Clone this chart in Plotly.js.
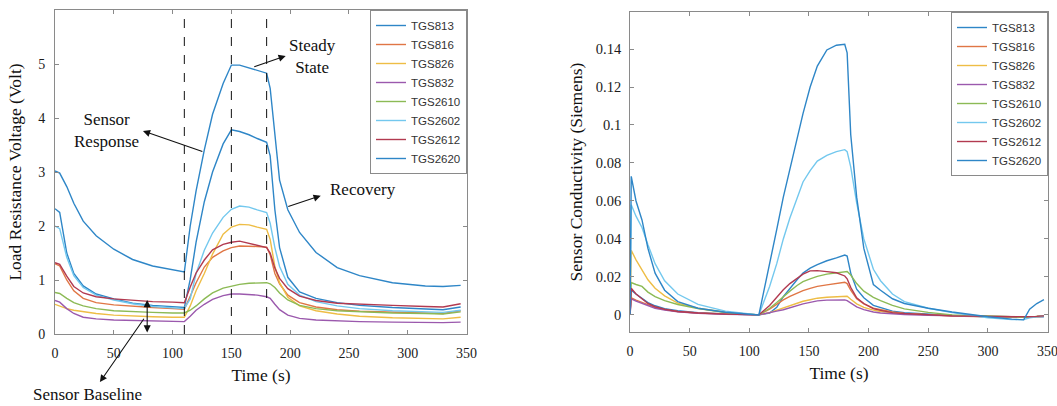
<!DOCTYPE html>
<html>
<head>
<meta charset="utf-8">
<script src="https://cdn.plot.ly/plotly-3.0.1.min.js"></script>
<style>html,body{margin:0;padding:0;background:#fff;}#chart{width:1057px;height:406px;}</style>
</head>
<body>
<div id="chart"></div>
<script>
// ---------- categories ----------
const sensors = ['TGS813', 'TGS816', 'TGS826', 'TGS832', 'TGS2610', 'TGS2602', 'TGS2612', 'TGS2620'];
const sensorColors = ['#2e86c7', '#e07645', '#eebd45', '#9b59ad', '#8cba55', '#73c8ee', '#b23a50', '#2e86c7'];

// ---------- left panel: load resistance voltage (Volt) ----------
const timeV = [0, 4, 10, 16, 24, 35, 50, 66, 83, 100, 110, 115, 120, 127, 134, 143, 150, 157, 165, 172, 180, 183, 187, 191, 198, 208, 222, 240, 259, 287, 315, 330, 345];
const volt_TGS813  = [2.32, 2.25, 1.5, 1.12, 0.89, 0.74, 0.65, 0.57, 0.53, 0.5, 0.49, 1.01, 1.7, 2.45, 3.0, 3.52, 3.78, 3.75, 3.69, 3.62, 3.55, 3.3, 2.3, 1.6, 1.05, 0.78, 0.66, 0.58, 0.53, 0.49, 0.46, 0.45, 0.5];
const volt_TGS816  = [1.3, 1.26, 1.0, 0.8, 0.66, 0.58, 0.54, 0.51, 0.49, 0.47, 0.46, 0.7, 0.95, 1.24, 1.42, 1.54, 1.6, 1.63, 1.63, 1.62, 1.61, 1.47, 1.12, 0.93, 0.72, 0.58, 0.5, 0.45, 0.42, 0.4, 0.38, 0.38, 0.43];
const volt_TGS826  = [0.55, 0.52, 0.47, 0.44, 0.41, 0.38, 0.35, 0.33, 0.32, 0.31, 0.31, 0.52, 0.8, 1.12, 1.48, 1.85, 1.98, 2.03, 2.02, 1.98, 1.94, 1.75, 1.25, 0.95, 0.68, 0.52, 0.43, 0.37, 0.33, 0.3, 0.29, 0.28, 0.31];
const volt_TGS832  = [0.62, 0.59, 0.47, 0.38, 0.31, 0.28, 0.26, 0.25, 0.24, 0.23, 0.23, 0.33, 0.44, 0.55, 0.64, 0.71, 0.74, 0.74, 0.73, 0.72, 0.69, 0.66, 0.55, 0.45, 0.35, 0.29, 0.26, 0.24, 0.23, 0.22, 0.21, 0.21, 0.22];
const volt_TGS2610 = [0.77, 0.75, 0.66, 0.58, 0.52, 0.47, 0.43, 0.41, 0.4, 0.39, 0.39, 0.44, 0.52, 0.65, 0.76, 0.85, 0.89, 0.92, 0.94, 0.95, 0.95, 0.93, 0.86, 0.76, 0.63, 0.53, 0.47, 0.43, 0.41, 0.39, 0.38, 0.37, 0.41];
const volt_TGS2602 = [2.0, 1.95, 1.42, 1.08, 0.86, 0.72, 0.63, 0.56, 0.51, 0.48, 0.47, 0.65, 1.12, 1.55, 1.87, 2.16, 2.31, 2.37, 2.35, 2.3, 2.25, 2.05, 1.6, 1.25, 0.92, 0.72, 0.6, 0.52, 0.47, 0.43, 0.41, 0.4, 0.44];
const volt_TGS2612 = [1.32, 1.29, 1.07, 0.88, 0.76, 0.69, 0.65, 0.62, 0.6, 0.59, 0.58, 0.87, 1.13, 1.37, 1.56, 1.66, 1.7, 1.72, 1.68, 1.64, 1.6, 1.5, 1.22, 1.03, 0.84, 0.7, 0.62, 0.57, 0.55, 0.53, 0.51, 0.5, 0.56];
const volt_TGS2620 = [3.02, 2.98, 2.73, 2.42, 2.09, 1.82, 1.57, 1.38, 1.26, 1.19, 1.15, 2.0, 2.65, 3.41, 4.07, 4.64, 4.98, 4.98, 4.93, 4.88, 4.83, 4.55, 3.65, 2.85, 2.3, 1.88, 1.51, 1.23, 1.08, 0.95, 0.89, 0.88, 0.9];
const voltValues = [volt_TGS813, volt_TGS816, volt_TGS826, volt_TGS832, volt_TGS2610, volt_TGS2602, volt_TGS2612, volt_TGS2620];

// ---------- right panel: sensor conductivity (Siemens) ----------
const timeS = [0, 1, 5, 10, 15, 21, 29, 40, 57, 80, 108, 117, 123, 128.5, 134, 140, 145, 151, 157, 165, 173, 180, 182, 185, 190, 196, 204, 210, 220, 230, 250, 270, 300, 320, 330, 335, 341, 347];
const cond_TGS813  = [0.0, 0.013, 0.011, 0.0085, 0.0065, 0.0048, 0.0033, 0.0022, 0.0012, 0.0005, 0.0, 0.001, 0.004, 0.0096, 0.014, 0.0185, 0.022, 0.0246, 0.0265, 0.0285, 0.03, 0.0315, 0.031, 0.022, 0.0135, 0.009, 0.005, 0.0038, 0.002, 0.0012, 0.0003, -0.0003, -0.001, -0.0012, -0.0012, -0.0012, -0.001, -0.001];
const cond_TGS816  = [0.0, 0.009, 0.0078, 0.0065, 0.0052, 0.004, 0.0028, 0.0018, 0.001, 0.0004, 0.0, 0.003, 0.0057, 0.0079, 0.0098, 0.0115, 0.0128, 0.014, 0.015, 0.0158, 0.0165, 0.0172, 0.0165, 0.013, 0.0085, 0.0058, 0.0035, 0.0026, 0.0015, 0.0008, 0.0, -0.0006, -0.001, -0.0012, -0.0012, -0.0012, -0.001, -0.0008];
const cond_TGS826  = [0.0, 0.034, 0.029, 0.024, 0.0185, 0.014, 0.01, 0.0062, 0.0035, 0.0014, 0.0, 0.0012, 0.0025, 0.0037, 0.005, 0.0063, 0.0072, 0.008, 0.0088, 0.0093, 0.0097, 0.01, 0.0098, 0.0082, 0.0058, 0.004, 0.0025, 0.0018, 0.0011, 0.0006, 0.0, -0.0004, -0.0008, -0.001, -0.001, -0.001, -0.0008, -0.0006];
const cond_TGS832  = [0.0, 0.0085, 0.0072, 0.006, 0.0046, 0.0035, 0.0025, 0.0016, 0.0009, 0.0003, 0.0, 0.001, 0.002, 0.0027, 0.0038, 0.005, 0.0058, 0.0066, 0.0074, 0.0078, 0.0079, 0.0079, 0.0075, 0.0062, 0.0042, 0.0028, 0.0015, 0.001, 0.0005, 0.0002, -0.0002, -0.0005, -0.0008, -0.001, -0.001, -0.001, -0.0008, -0.0006];
const cond_TGS2610 = [0.0, 0.017, 0.016, 0.015, 0.012, 0.0096, 0.0075, 0.0055, 0.0033, 0.0013, 0.0, 0.0035, 0.0065, 0.0096, 0.0125, 0.0155, 0.0175, 0.019, 0.0203, 0.0215, 0.0222, 0.0226, 0.0228, 0.021, 0.0165, 0.0125, 0.0092, 0.0075, 0.005, 0.0032, 0.0013, 0.0, -0.0008, -0.001, -0.0012, -0.0012, -0.0008, -0.0005];
const cond_TGS2602 = [0.0, 0.058, 0.052, 0.046, 0.037, 0.027, 0.018, 0.011, 0.0055, 0.002, 0.0, 0.015, 0.027, 0.04, 0.051, 0.062, 0.07, 0.076, 0.081, 0.084, 0.086, 0.087, 0.086, 0.078, 0.059, 0.04, 0.024, 0.018, 0.011, 0.007, 0.0035, 0.0012, -0.0015, -0.0025, -0.0025, -0.0015, -0.001, -0.0005];
const cond_TGS2612 = [0.0, 0.014, 0.011, 0.0085, 0.006, 0.0043, 0.003, 0.0018, 0.001, 0.0004, 0.0, 0.005, 0.0095, 0.0132, 0.0165, 0.0193, 0.0215, 0.0232, 0.0233, 0.0228, 0.0222, 0.0205, 0.019, 0.0145, 0.009, 0.006, 0.0033, 0.0024, 0.0012, 0.0007, 0.0, -0.0005, -0.0008, -0.001, -0.001, -0.001, -0.0008, -0.0005];
const cond_TGS2620 = [0.0, 0.073, 0.06, 0.05, 0.035, 0.022, 0.013, 0.007, 0.0035, 0.0014, 0.0, 0.026, 0.045, 0.062, 0.077, 0.092, 0.106, 0.12, 0.131, 0.1395, 0.142, 0.1425, 0.138, 0.095, 0.062, 0.035, 0.016, 0.013, 0.0085, 0.006, 0.0035, 0.0015, -0.001, -0.0022, -0.0026, 0.003, 0.006, 0.008];
const condValues = [cond_TGS813, cond_TGS816, cond_TGS826, cond_TGS832, cond_TGS2610, cond_TGS2602, cond_TGS2612, cond_TGS2620];

// ---------- ticks & phase markers ----------
const timeTicks = [0, 50, 100, 150, 200, 250, 300, 350];
const voltTicks = [0, 1, 2, 3, 4, 5];
const condTicks = [0, 0.02, 0.04, 0.06, 0.08, 0.1, 0.12, 0.14];
const condTickLabels = ['0', '0.02', '0.04', '0.06', '0.08', '0.1', '0.12', '0.14'];
const phaseTimes = [110, 150, 180];

// ---------- traces ----------
const traces = [];
sensors.forEach((name, i) => {
  traces.push({
    x: timeV, y: voltValues[i], name: name, type: 'scatter', mode: 'lines',
    line: {color: sensorColors[i], width: 1.4},
    xaxis: 'x', yaxis: 'y', legend: 'legend'
  });
});
sensors.forEach((name, i) => {
  traces.push({
    x: timeS, y: condValues[i], name: name, type: 'scatter', mode: 'lines',
    line: {color: sensorColors[i], width: 1.4},
    xaxis: 'x2', yaxis: 'y2', legend: 'legend2'
  });
});

const serif = 'Liberation Serif, Times New Roman, serif';
const sans = 'Liberation Sans, Arial, sans-serif';
const axisLine = '#8a8a8a';

function xAxis(domain, anchor) {
  return {
    domain: domain, anchor: anchor, range: [0, 350.4],
    tickvals: timeTicks, ticks: 'inside', ticklen: 4, tickcolor: axisLine,
    showline: true, linecolor: axisLine, linewidth: 1, mirror: 'ticks',
    showgrid: false, zeroline: false, ticklabelstandoff: 6, ticklabeloverflow: 'allow',
    tickfont: {family: serif, size: 14, color: '#1a1a1a'},
    title: {text: 'Time (s)', font: {family: serif, size: 17.5, color: '#111'}, standoff: 8}
  };
}

const shapes = phaseTimes.map(t => ({
  type: 'line', xref: 'x', yref: 'y domain', x0: t, x1: t, y0: 0, y1: 1,
  line: {color: '#111', width: 1, dash: 'dash'}
}));

const noteFont = {family: serif, size: 17, color: '#111'};
function arrow(x, y, ax, ay, both) {
  const a = {
    xref: 'x', yref: 'y', axref: 'x', ayref: 'y', x: x, y: y, ax: ax, ay: ay,
    text: '', showarrow: true, arrowhead: 2, arrowsize: 1.3, arrowwidth: 1.1, arrowcolor: '#111',
    font: {size: 1}
  };
  if (both) { a.arrowside = 'end+start'; a.startarrowhead = 2; a.startarrowsize = 1.3; }
  return a;
}
const annotations = [
  {xref: 'x', yref: 'y', x: 219, y: 5.13, text: 'Steady<br>State', showarrow: false, font: noteFont},
  {xref: 'x', yref: 'y', x: 44, y: 3.76, text: 'Sensor<br>Response', showarrow: false, font: noteFont},
  {xref: 'x', yref: 'y', x: 261.7, y: 2.67, text: 'Recovery', showarrow: false, font: noteFont},
  {xref: 'x', yref: 'paper', x: 28, y: -0.188, xanchor: 'center', yanchor: 'middle', text: 'Sensor Baseline', showarrow: false, font: noteFont},
  arrow(196.2, 5.15, 168.2, 4.94),
  arrow(74.8, 3.76, 126.6, 3.37),
  arrow(226, 2.56, 197.1, 2.35),
  arrow(38.2, -0.89, 76.5, 0.31),
  arrow(78.4, 0.63, 78.4, 0.0, true)
];

const legendStyle = {
  xref: 'paper', yref: 'paper', xanchor: 'right', yanchor: 'top',
  bgcolor: '#ffffff', bordercolor: '#8a8a8a', borderwidth: 1,
  font: {family: sans, size: 11.5, color: '#333'}, tracegroupgap: 0
};

const layout = {
  width: 1057, height: 406,
  margin: {l: 55, r: 9, t: 10, b: 72},
  paper_bgcolor: '#ffffff', plot_bgcolor: '#ffffff',
  showlegend: true,
  xaxis: xAxis([0, 0.4149], 'y'),
  yaxis: {
    domain: [0, 1], anchor: 'x', range: [0, 6], tickvals: voltTicks,
    ticks: 'inside', ticklen: 4, tickcolor: axisLine,
    showline: true, linecolor: axisLine, linewidth: 1, mirror: 'ticks',
    showgrid: false, zeroline: false, ticklabelstandoff: 6,
    tickfont: {family: serif, size: 14, color: '#1a1a1a'},
    title: {text: 'Load Resistance Voltage (Volt)', font: {family: serif, size: 17.5, color: '#111'}, standoff: 12}
  },
  xaxis2: xAxis([0.5791, 1], 'y2'),
  yaxis2: {
    domain: [0.0062, 0.9938], anchor: 'x2', range: [-0.009, 0.1595],
    tickvals: condTicks, ticktext: condTickLabels,
    ticks: 'inside', ticklen: 4, tickcolor: axisLine,
    showline: true, linecolor: axisLine, linewidth: 1, mirror: 'ticks',
    showgrid: false, zeroline: false, ticklabelstandoff: 5,
    tickfont: {family: serif, size: 14.5, color: '#1a1a1a'},
    title: {text: 'Sensor Conductivity (Siemens)', font: {family: serif, size: 17.5, color: '#111'}, standoff: 8}
  },
  legend: Object.assign({x: 0.4149, y: 1.0}, legendStyle),
  legend2: Object.assign({x: 1.0, y: 0.9938}, legendStyle),
  shapes: shapes,
  annotations: annotations
};

Plotly.newPlot('chart', traces, layout, {staticPlot: true, displayModeBar: false});
</script>
</body>
</html>
